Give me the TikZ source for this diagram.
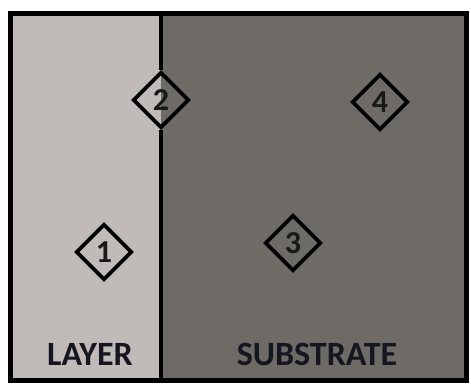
\documentclass[tikz,border=0pt]{standalone}
\usepackage{fontspec}
\setmainfont{Carlito}
\usetikzlibrary{shapes.geometric}
\definecolor{layerc}{HTML}{C0BBB8}
\definecolor{substc}{HTML}{6E6A65}
\definecolor{labc}{HTML}{15161F}
\tikzset{
  mark box/.style={diamond, draw=black, line width=3.6pt, minimum width=56pt, minimum height=56pt, inner sep=0pt, font=\fontsize{32}{32}\selectfont\bfseries, text=black!90},
  region label/.style={font=\fontsize{34}{34}\selectfont\bfseries, text=labc},
}
\begin{document}
\begin{tikzpicture}[x=1pt,y=-1pt]
\useasboundingbox (0,0) rectangle (471,383);
\fill[white] (0,0) rectangle (471,383);
\fill[layerc] (10,13) rectangle (161,380);
\fill[substc] (161,13) rectangle (466,380);
\coordinate (dtop) at (161,13);
\coordinate (dbot) at (161,380);
\node[mark box] (m2) at (161,100) {2};
\node[mark box] (m1) at (104,252) {1};
\node[mark box] (m3) at (293,243) {3};
\node[mark box] (m4) at (380,102) {4};
\draw[line width=3.6pt] (dtop) -- (m2.north);
\draw[line width=3.6pt] (m2.south) -- (dbot);
\draw[line width=5pt] (10,13) rectangle (466,380);
\node[region label] (layer) at (90,354) {LAYER};
\node[region label] (subst) at (317,354) {SUBSTRATE};
\end{tikzpicture}
\end{document}
